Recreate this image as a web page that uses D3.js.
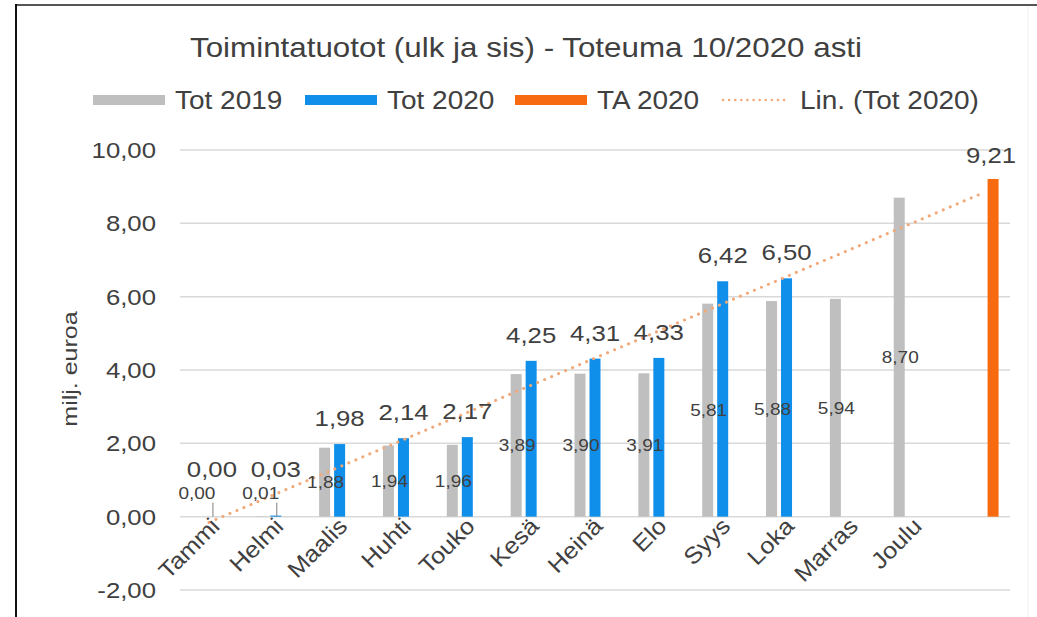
<!DOCTYPE html>
<html>
<head>
    <meta charset="utf-8">
    <title>Toimintatuotot</title>
    <script src="https://d3js.org/d3.v7.min.js"></script>
    <style>
        body { margin: 0; background: #fff; }
        text { font-family: "Liberation Sans", Arial, sans-serif; fill: #404040; }
    </style>
</head>
<body>
    <div id="chart"></div>
    <script>
        // Data
        const months = ["Tammi", "Helmi", "Maalis", "Huhti", "Touko", "Kesä", "Heinä", "Elo", "Syys", "Loka", "Marras", "Joulu", ""];
        const tot2019 = [0.00, 0.01, 1.88, 1.94, 1.96, 3.89, 3.90, 3.91, 5.81, 5.88, 5.94, 8.70, null];
        const tot2020 = [0.00, 0.03, 1.98, 2.14, 2.17, 4.25, 4.31, 4.33, 6.42, 6.50, null, null, null];
        const ta2020 = [null, null, null, null, null, null, null, null, null, null, null, null, 9.21];
        const yTicks = [-2, 0, 2, 4, 6, 8, 10];

        const fi = d3.formatLocale({ decimal: ",", thousands: " ", grouping: [3], currency: ["", " €"], minus: "-" });
        const fmt = fi.format(".2f");
        const SX = 1.12; // the reference text is a bit wider than Arial

        const svg = d3.select("#chart")
            .append("svg")
            .attr("width", 1037)
            .attr("height", 617);

        // place a horizontal text with the wider look
        const place = (sel, fx, fy) =>
            sel.attr("transform", (d, i) => `translate(${fx(d, i)},${fy(d, i)}) scale(${SX},1)`);

        // Frame
        svg.append("line").attr("x1", 16).attr("x2", 1037).attr("y1", 5).attr("y2", 5)
            .style("stroke", "#555").style("stroke-width", 2);
        svg.append("line").attr("x1", 16).attr("x2", 16).attr("y1", 4).attr("y2", 617)
            .style("stroke", "#111").style("stroke-width", 2);
        svg.append("line").attr("x1", 1028).attr("x2", 1028).attr("y1", 6).attr("y2", 617)
            .style("stroke", "#eee").style("stroke-width", 1);

        const x = d3.scaleBand().domain(d3.range(months.length)).range([180, 1010]);
        const y = d3.scaleLinear().domain([-2, 10]).range([590, 150]);
        const cx = i => x(i) + x.bandwidth() / 2;
        const barW = 11, step = 15;

        // Gridlines
        svg.append("g").selectAll("line").data(yTicks).enter().append("line")
            .attr("x1", 180).attr("x2", 1010)
            .attr("y1", d => y(d)).attr("y2", d => y(d))
            .style("stroke", "#d9d9d9").style("stroke-width", 1.5);

        // Y axis labels
        place(svg.append("g").selectAll("text").data(yTicks).enter().append("text"),
            () => 156, d => y(d) + 8)
            .attr("text-anchor", "end")
            .style("font-size", "23px")
            .text(d => fmt(d));

        svg.append("text")
            .attr("transform", "translate(77,369) rotate(-90) scale(1.25,1)")
            .attr("text-anchor", "middle")
            .style("font-size", "20px")
            .text("milj. euroa");

        // Title
        place(svg.append("text"), () => 526, () => 57)
            .attr("text-anchor", "middle")
            .style("font-size", "28px")
            .text("Toimintatuotot (ulk ja sis) - Toteuma 10/2020 asti");

        // Legend
        const legend = [
            { name: "Tot 2019", color: "#bfbfbf", x: 93, type: "bar" },
            { name: "Tot 2020", color: "#0f8fea", x: 305, type: "bar" },
            { name: "TA 2020", color: "#f86a10", x: 515, type: "bar" },
            { name: "Lin. (Tot 2020)", color: "#f2a877", x: 720, type: "line" }
        ];
        const lg = svg.append("g").selectAll("g").data(legend).enter().append("g");
        lg.filter(d => d.type === "bar").append("rect")
            .attr("x", d => d.x).attr("y", 95).attr("width", 72).attr("height", 10)
            .style("fill", d => d.color);
        lg.filter(d => d.type === "line").append("line")
            .attr("x1", d => d.x + 3).attr("x2", d => d.x + 68).attr("y1", 100).attr("y2", 100)
            .style("stroke", d => d.color).style("stroke-width", 2.5)
            .style("stroke-dasharray", "0.1,6").style("stroke-linecap", "round");
        place(lg.append("text"), d => d.x + (d.type === "bar" ? 82 : 80), () => 109)
            .style("font-size", "25px")
            .text(d => d.name);

        // Bars
        const series = [
            { values: tot2019, color: "#bfbfbf", off: -step },
            { values: tot2020, color: "#0f8fea", off: 0 },
            { values: ta2020, color: "#f86a10", off: step }
        ];
        series.forEach(s => {
            svg.append("g").selectAll("rect")
                .data(s.values.map((v, i) => ({ v, i })).filter(d => d.v !== null))
                .enter().append("rect")
                .attr("x", d => cx(d.i) + s.off - barW / 2)
                .attr("y", d => y(Math.max(d.v, 0)))
                .attr("width", barW)
                .attr("height", d => Math.abs(y(d.v) - y(0)))
                .style("fill", s.color);
        });

        // Leader lines for the small January/February values
        const small = tot2020.map((v, i) => ({ v, i })).filter(d => d.v !== null && d.v < 0.5);
        svg.append("g").selectAll("line").data(small).enter().append("line")
            .attr("x1", d => cx(d.i) + 1).attr("x2", d => cx(d.i) + 1)
            .attr("y1", y(0) - 14).attr("y2", y(0))
            .style("stroke", "#7f7f7f").style("stroke-width", 1);

        // Trendline (linear fit of Tot 2020, extended to the last category)
        const pts = tot2020.map((v, i) => [i + 1, v]).filter(d => d[1] !== null);
        const mx = d3.mean(pts, d => d[0]), my = d3.mean(pts, d => d[1]);
        const slope = d3.sum(pts, d => (d[0] - mx) * (d[1] - my)) / d3.sum(pts, d => (d[0] - mx) ** 2);
        const trend = i => my + slope * (i + 1 - mx);
        const lastI = months.length - 1;
        svg.append("line")
            .attr("x1", cx(0) - 3).attr("y1", y(trend(0)))
            .attr("x2", cx(lastI) + 5).attr("y2", y(trend(lastI)))
            .style("stroke", "#f2a877").style("stroke-width", 3)
            .style("stroke-dasharray", "0.1,7.5").style("stroke-linecap", "round");

        // Labels Tot 2019 (centered in bar)
        place(svg.append("g").selectAll("text")
            .data(tot2019.map((v, i) => ({ v, i })).filter(d => d.v !== null))
            .enter().append("text"),
            d => cx(d.i) - step + (d.v < 0.5 ? 0 : 1),
            d => d.v < 0.5 ? y(0) - 18 : (y(d.v) + y(0)) / 2 + 6)
            .attr("text-anchor", "middle")
            .style("font-size", "17px")
            .text(d => fmt(d.v));

        // Labels Tot 2020 (above bar)
        place(svg.append("g").selectAll("text")
            .data(tot2020.map((v, i) => ({ v, i })).filter(d => d.v !== null))
            .enter().append("text"),
            d => cx(d.i),
            d => d.v < 0.5 ? y(0) - 40 : y(d.v) - 18)
            .attr("text-anchor", "middle")
            .style("font-size", "23px")
            .text(d => fmt(d.v));

        // Label TA 2020
        place(svg.append("g").selectAll("text")
            .data(ta2020.map((v, i) => ({ v, i })).filter(d => d.v !== null))
            .enter().append("text"),
            d => cx(d.i) + step - 2,
            d => y(d.v) - 16)
            .attr("text-anchor", "middle")
            .style("font-size", "23px")
            .text(d => fmt(d.v));

        // X axis labels
        svg.append("g").selectAll("text")
            .data(months.filter(m => m !== ""))
            .enter().append("text")
            .attr("transform", (d, i) => `translate(${cx(i) + 9},${y(0) + 11}) rotate(-45) scale(1.1,1)`)
            .attr("text-anchor", "end")
            .style("font-size", "23px")
            .text(d => d);
    </script>
</body>
</html>
